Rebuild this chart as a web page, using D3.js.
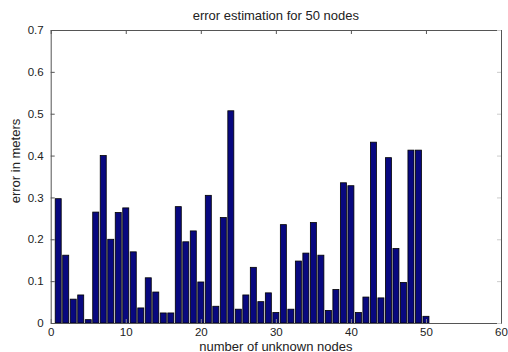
<!DOCTYPE html>
<html>
<head>
<meta charset="utf-8">
<script src="https://cdn.jsdelivr.net/npm/d3@7"></script>
<style>
  html, body { margin: 0; padding: 0; background: #fff; }
  svg { display: block; }
  text { font-family: "Liberation Sans", Arial, sans-serif; fill: #222; }
</style>
</head>
<body>
<svg id="chart" width="508" height="352"></svg>
<script>
const nodes = d3.range(1, 51);
const errors = [
  0.297, 0.162, 0.057, 0.067, 0.008, 0.265, 0.400, 0.200, 0.264, 0.275,
  0.170, 0.036, 0.108, 0.074, 0.024, 0.024, 0.278, 0.194, 0.220, 0.098,
  0.305, 0.040, 0.252, 0.507, 0.033, 0.067, 0.133, 0.051, 0.072, 0.025,
  0.235, 0.033, 0.148, 0.167, 0.240, 0.162, 0.030, 0.080, 0.335, 0.328,
  0.025, 0.062, 0.432, 0.060, 0.395, 0.178, 0.097, 0.413, 0.413, 0.016
];
const xTicks = [0, 10, 20, 30, 40, 50, 60];
const yTicks = [0, 0.1, 0.2, 0.3, 0.4, 0.5, 0.6, 0.7];
const titleText = "error estimation for 50 nodes";
const xLabelText = "number of unknown nodes";
const yLabelText = "error in meters";

(function () {
const svg = d3.select("#chart");
const mL = 50.7, mR = 501, mT = 30, mB = 323;
const x = d3.scaleLinear().domain([0, 60]).range([mL, mR]);
const y = d3.scaleLinear().domain([0, 0.7]).range([mB, mT]);
const barW = 0.8;

// bars
svg.append("g").selectAll("rect").data(nodes).join("rect")
  .attr("x", d => x(d - barW / 2))
  .attr("width", d => x(d + barW / 2) - x(d - barW / 2))
  .attr("y", (d, i) => y(errors[i]))
  .attr("height", (d, i) => y(0) - y(errors[i]))
  .attr("fill", "#08087f")
  .attr("stroke", "#000")
  .attr("stroke-width", 0.8);

// axes (MATLAB style, ticks inside, box)
const tickLen = 4;
const axisColor = "#555";
const xB = svg.append("g").attr("transform", `translate(0,${mB})`)
  .call(d3.axisBottom(x).tickValues(xTicks).tickSizeInner(-tickLen).tickSizeOuter(0).tickFormat(d3.format("d")));
const xT = svg.append("g").attr("transform", `translate(0,${mT})`)
  .call(d3.axisTop(x).tickValues(xTicks).tickSizeInner(-tickLen).tickSizeOuter(0).tickFormat(""));
const yL = svg.append("g").attr("transform", `translate(${mL},0)`)
  .call(d3.axisLeft(y).tickValues(yTicks).tickSizeInner(-tickLen).tickSizeOuter(0).tickPadding(7).tickFormat(d => d === 0 ? "0" : d3.format(".1f")(d)));
const yR = svg.append("g").attr("transform", `translate(${mR},0)`)
  .call(d3.axisRight(y).tickValues(yTicks).tickSizeInner(-tickLen).tickSizeOuter(0).tickFormat(""));

[xB, xT, yL, yR].forEach(g => {
  g.select(".domain").attr("stroke", axisColor).attr("stroke-width", 1);
  g.selectAll(".tick line").attr("stroke", axisColor);
  g.selectAll("text").attr("font-size", 11.5).attr("fill", "#222")
    .attr("font-family", "'Liberation Sans', Arial, sans-serif");
});
xB.selectAll(".tick line").attr("stroke", "#888");
yR.selectAll(".tick line").attr("stroke", "#ccc");
xB.selectAll(".tick text").attr("dy", 0).attr("y", 12.5);

svg.append("text").attr("x", (mL + mR) / 2).attr("y", 20)
  .attr("text-anchor", "middle").attr("font-size", 13).text(titleText);
svg.append("text").attr("x", (mL + mR) / 2).attr("y", 350.5)
  .attr("text-anchor", "middle").attr("font-size", 13).text(xLabelText);
svg.append("text").attr("transform", "translate(20,161) rotate(-90)")
  .attr("text-anchor", "middle").attr("font-size", 13).text(yLabelText);
})();
</script>
</body>
</html>
